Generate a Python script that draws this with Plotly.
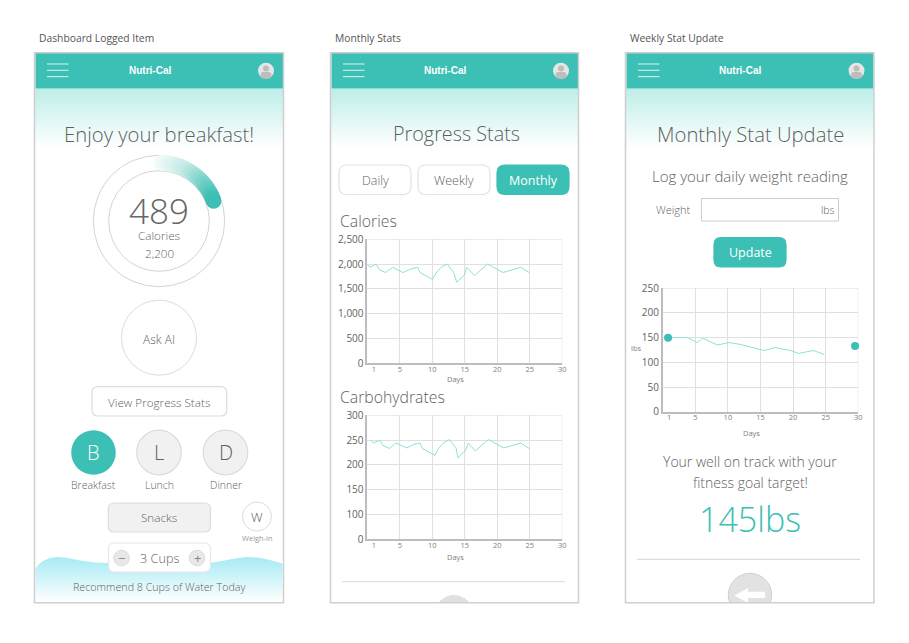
#!/usr/bin/env python3
"""Nutri-Cal app screens: three phone mockups with calorie, carb and weight charts."""

import math

import plotly.graph_objects as go

# Values
cal_days = [0, 0.4, 1.33, 1.85, 2.82, 3.9, 5.5, 6.7, 7.75, 8.1, 10.05, 10.55, 11.3, 12.3,
            13.3, 13.75, 14.9, 15.3, 16.5, 18.5, 20.9, 23.6, 24.9]
calories = [2000, 1935, 2000, 1890, 1830, 1935, 1830, 1900, 1935, 1830, 1690, 1815, 1930, 2000,
            1830, 1635, 1770, 1935, 1770, 2000, 1830, 1935, 1830]
carb_days = [0.5, 0.97, 1.95, 2.4, 3.4, 4.4, 6.05, 7.1, 8.1, 8.45, 10.4, 10.9, 11.7, 12.6,
             13.65, 13.95, 15.1, 15.55, 16.6, 18.65, 21.0, 23.6, 24.9]
carbs = [250, 244, 250, 239, 233, 244, 234, 241, 244, 233, 219, 232, 244, 251,
         234, 214, 229, 244, 228, 251, 234, 244, 233]
weight_days = [0.82, 3.83, 5.3, 6.13, 8.4, 10.1, 11.85, 13.2, 15.6, 17.2, 19.6, 20.85, 23.1, 24.8]
weights = [150, 150, 140, 149, 135, 140, 136.5, 132, 124, 130, 124, 118, 124, 116]
weight_marks_days = [0.82, 29.5]
weight_marks = [150, 133]

day_ticks = [1, 5, 10, 15, 20, 25, 30]
day_grid = [0, 5, 10, 15, 20, 25, 30]
cal_ticks = [0, 500, 1000, 1500, 2000, 2500]
# the mockup's carb axis skips 50: labels are evenly spaced, so 50 sits where "0" is printed
carb_ticks = [50, 100, 150, 200, 250, 300]
carb_labels = ["0", "100", "150", "200", "250", "300"]
weight_ticks = [0, 50, 100, 150, 200, 250]

TEAL = "#3cbfb4"
LINE = "#8fe0d8"
GRID = "#e0e0e0"
AXIS = "#bdbdbd"
TEXT = "#5f5f5f"
SMALL = "#808080"
BORDER = "#dcdcdc"
FONT = "Open Sans"

WIDTH, HEIGHT = 893, 627  # browser body margin adds 8px on each side
PHONES = [(34.5, 283.5), (330.5, 578.5), (625.5, 874)]
TOP, BOTTOM = 52.7, 602.7


def px_x(x):
    return (x - 8) / WIDTH


def px_y(y):
    return 1 - (y - 8) / HEIGHT


fig = go.Figure()
shapes = []
notes = []


def label(x, y, text, size=12, color=TEXT, anchor="center", family=FONT, weight=None):
    # annotations sit low against the reference, so lift them
    notes.append(dict(x=x, y=y - 2, xref="x", yref="y", text=text, showarrow=False, xanchor=anchor,
                      yanchor="middle", borderpad=0,
                      font=dict(size=size, color=color, family=family, weight=weight)))


def rect(x0, y0, x1, y1, fill=None, line=None, width=1, layer="above"):
    shapes.append(dict(type="rect", xref="x", yref="y", x0=x0, y0=y0, x1=x1, y1=y1, layer=layer,
                       fillcolor=fill or "rgba(0,0,0,0)",
                       line=dict(color=line or "rgba(0,0,0,0)", width=width if line else 0)))


def button(x0, y0, x1, y1, fill="#ffffff", line=BORDER, r=6):
    path = (f"M{x0 + r},{y0} L{x1 - r},{y0} Q{x1},{y0} {x1},{y0 + r} L{x1},{y1 - r} "
            f"Q{x1},{y1} {x1 - r},{y1} L{x0 + r},{y1} Q{x0},{y1} {x0},{y1 - r} "
            f"L{x0},{y0 + r} Q{x0},{y0} {x0 + r},{y0} Z")
    shapes.append(dict(type="path", xref="x", yref="y", path=path, fillcolor=fill, layer="above",
                       line=dict(color=line, width=1.2)))


def circle(cx, cy, r, fill=None, line=None, width=1, layer="above"):
    shapes.append(dict(type="circle", xref="x", yref="y", x0=cx - r, y0=cy - r, x1=cx + r, y1=cy + r,
                       layer=layer, fillcolor=fill or "rgba(0,0,0,0)",
                       line=dict(color=line or "rgba(0,0,0,0)", width=width if line else 0)))


def gradient_fill(xs, ys, y0, y1, c0, c1):
    fig.add_trace(go.Scatter(x=xs, y=ys, xaxis="x", yaxis="y", mode="lines", fill="toself",
                             line=dict(width=0), hoverinfo="skip",
                             fillgradient=dict(type="vertical", start=y0, stop=y1,
                                               colorscale=[[0, c0], [1, c1]])))


# Backgrounds under the phone headers
for left, right in PHONES:
    gradient_fill([left, right, right, left, left], [88.5, 88.5, 148, 148, 88.5], 88.5, 148,
                  "#bdeee8", "#ffffff")

# Water wave on the dashboard
wave_x = [35.5, 38, 43, 50, 58, 68, 80, 95, 108, 130, 190, 210, 222, 235, 247, 258, 270, 282.5, 282.5, 35.5]
wave_y = [569, 565, 561, 558, 557, 558, 560.5, 562.5, 563, 563, 563, 563, 561, 558.5, 557, 557.5, 560, 563.5, 602, 602]
gradient_fill(wave_x, wave_y, 557, 602, "#a6ebf3", "#ffffff")

# Progress arc: a run of overlapping dots from pale to teal
arc_angles = [2 + i * 1.15 for i in range(60)]
fig.add_trace(go.Scatter(
    x=[159 + 58.2 * math.sin(math.radians(a)) for a in arc_angles],
    y=[221 - 58.2 * math.cos(math.radians(a)) for a in arc_angles],
    xaxis="x", yaxis="y", mode="markers", hoverinfo="skip",
    marker=dict(size=15.5, line=dict(width=0), color=arc_angles, cmin=2, cmax=70,
                colorscale=[[0, "#f6fcfb"], [0.42, "#c2e9e5"], [1, TEAL]])))


def chart(idx, days, values, y_range, ticks, tick_text, box, title_at):
    x0, y0, x1, y1 = box
    xa, ya = f"xaxis{idx}", f"yaxis{idx}"
    fig.add_trace(go.Scatter(x=days, y=values, xaxis=f"x{idx}", yaxis=f"y{idx}", mode="lines",
                             line=dict(color=LINE, width=1)))
    fig.update_layout({
        xa: dict(domain=[px_x(x0), px_x(x1)], anchor=f"y{idx}", range=[0, 30], tickmode="array",
                 tickvals=day_ticks, showgrid=False, zeroline=False, showline=True,
                 linecolor=AXIS, linewidth=1.5, ticks="", ticklabelstandoff=-2,
                 tickfont=dict(size=7.5, color=SMALL, family=FONT),
                 minor=dict(tickmode="array", tickvals=day_grid, showgrid=True, gridcolor=GRID,
                            gridwidth=1, ticks="")),
        ya: dict(domain=[px_y(y1), px_y(y0)], anchor=f"x{idx}", range=y_range, tickmode="array",
                 tickvals=ticks, ticktext=tick_text, showgrid=True, gridcolor=GRID, gridwidth=1,
                 zeroline=False, showline=True, linecolor=AXIS, linewidth=1.5, ticks="",
                 tickfont=dict(size=10, color=TEXT, family=FONT)),
    })
    # plotly leaves out the grid line at the far end of each axis
    for sx0, sy0, sx1, sy1 in [(30, y_range[0], 30, y_range[1]), (0, y_range[1], 30, y_range[1])]:
        shapes.append(dict(type="line", xref=f"x{idx}", yref=f"y{idx}", x0=sx0, y0=sy0, x1=sx1, y1=sy1,
                           layer="below", line=dict(color=GRID, width=1)))
    label(title_at[0], title_at[1], "Days", 7.5, SMALL)


chart(2, cal_days, calories, [0, 2500], cal_ticks, ["0", "500", "1,000", "1,500", "2,000", "2,500"],
      (367.3, 239.3, 562.3, 363.3), (455, 381))
chart(3, carb_days, carbs, [50, 300], carb_ticks, carb_labels, (367.3, 415.3, 562.3, 539), (455, 559))
chart(4, weight_days, weights, [0, 250], weight_ticks, [str(t) for t in weight_ticks],
      (662.7, 288.3, 858.3, 411.7), (751, 435))
fig.add_trace(go.Scatter(x=weight_marks_days, y=weight_marks, xaxis="x4", yaxis="y4", mode="markers",
                         marker=dict(color=TEAL, size=8), cliponaxis=False))
label(635.5, 350, "lbs", 7.5, SMALL)

# Headers shared by all three phones
for (left, right), caption in zip(PHONES, ["Dashboard Logged Item", "Monthly Stats", "Weekly Stat Update"]):
    rect(left + 1, TOP, right - 0.5, 88.5, fill=TEAL)
    for y in (64, 70.3, 76.7):
        shapes.append(dict(type="line", xref="x", yref="y", x0=left + 12.5, x1=left + 34, y0=y, y1=y,
                           layer="above", line=dict(color="#dff5f2", width=1)))
    cx = right - 17.5
    circle(cx, 70.7, 8, fill="#e6e6e6")
    circle(cx, 68.5, 3, fill="#bdbdbd")
    button(cx - 4.8, 72.5, cx + 4.8, 78, fill="#bdbdbd", line="#bdbdbd", r=2.2)
    label((left + right) / 2 - 9.5, 72.3, "<b>Nutri-Cal</b>", 10, "#ffffff", family="Liberation Sans")
    label(left + 3, 40, caption, 10.3, "#555555", anchor="left")

# Dashboard screen
label(159, 135.5, "Enjoy your breakfast!", 20.3, weight=300)
circle(159, 221, 65.7, line="#d4d4d4", layer="below")
circle(159, 221, 50.3, line="#d4d4d4", layer="below")
label(159, 212, "489", 35, "#666666", weight=300)
label(159, 237, "Calories", 11.7, weight=300)
label(159, 255, "2,200", 11.7, weight=300)
circle(159, 337.7, 37.5, line=BORDER)
label(159, 341, "Ask AI", 12, weight=300)
button(92, 386.7, 226.7, 416)
label(159, 404, "View Progress Stats", 11.7, weight=300)
for cx, letter, name, active in [(93.5, "B", "Breakfast", True), (159, "L", "Lunch", False),
                                 (225.5, "D", "Dinner", False)]:
    if active:
        circle(cx, 452.5, 22.3, fill=TEAL)
    else:
        circle(cx, 452.5, 22.3, fill="#f1f1f1", line=BORDER, width=1.2)
    label(cx, 454.5, letter, 20, "#ffffff" if active else TEXT, weight=300)
    label(cx, 487, name, 10.5, weight=300)
button(108.3, 503, 210.5, 532, fill="#f1f1f1")
label(159, 519, "Snacks", 11.7, weight=300)
circle(257, 516.5, 14.5, line=BORDER)
label(257, 518.5, "W", 13, weight=300)
label(257, 540, "Weigh-in", 7.5, "#999999")
button(108.5, 543, 210.5, 572, line="#e6e6e6")
circle(121.5, 558, 7.8, fill="#e8e8e8", line=BORDER)
circle(197, 558, 7.8, fill="#e8e8e8", line=BORDER)
label(121.5, 559.5, "−", 13, "#888888")
label(197, 559.5, "+", 13, "#888888")
label(159, 560, "3 Cups", 12.7, weight=300)
label(159, 589, "Recommend 8 Cups of Water Today", 10.7, weight=300)

# Monthly stats screen
label(456, 135.5, "Progress Stats", 19.8, weight=300)
for x0, text, active in [(339, "Daily", False), (418, "Weekly", False), (497, "Monthly", True)]:
    button(x0, 165, x0 + 72, 194.5, fill=TEAL if active else "#ffffff", line=TEAL if active else "#e2e2e2", r=8)
    label(x0 + 36, 182, text, 12.5, "#ffffff" if active else TEXT, weight=None if active else 300)
label(339, 222.5, "Calories", 15.8, anchor="left", weight=300)
label(339, 398.5, "Carbohydrates", 15.8, anchor="left", weight=300)
shapes.append(dict(type="line", xref="x", yref="y", x0=342, x1=565, y0=581.7, y1=581.7, layer="above",
                   line=dict(color="#e2e2e2", width=1.3)))
circle(454, 614, 19, fill="#e0e0e0")

# Stat update screen
label(750, 135.5, "Monthly Stat Update", 20.3, weight=300)
label(750, 178, "Log your daily weight reading", 15, weight=300)
label(673.5, 211.5, "Weight", 11, weight=300)
rect(701.5, 198.5, 838.5, 221, line="#cccccc", width=1)
label(835.5, 211.5, "lbs", 10.5, anchor="right", weight=300)
button(714, 237.7, 786, 267, fill=TEAL, line=TEAL, r=7)
label(750, 254.5, "Update", 12.5, "#ffffff")
label(750, 463, "Your well on track with your", 14, weight=300)
label(750, 484, "fitness goal target!", 14, weight=300)
label(750, 521, "145lbs", 34, TEAL, weight=300)
shapes.append(dict(type="line", xref="x", yref="y", x0=637, x1=860, y0=559.3, y1=559.3, layer="above",
                   line=dict(color="#d4d4d4", width=1)))
circle(750, 595, 21.7, fill="#e2e2e2", line="#d0d0d0")
shapes.append(dict(type="path", xref="x", yref="y", layer="above", fillcolor="#ffffff", line=dict(width=0),
                   path="M734.3,595.5 L748,588 L748,591.7 L765,591.7 L765,598 L748,598 L748,603 Z"))

# White cover trims the round buttons at the phone edge, then the phone frames
rect(320, 603, 890, 634, fill="#ffffff")
for left, right in PHONES:
    rect(left, TOP, right, BOTTOM, line="#cfcfcf", width=1.5)

fig.update_layout(
    width=WIDTH, height=HEIGHT, autosize=False, template="none", showlegend=False,
    margin=dict(l=0, r=0, t=0, b=0), paper_bgcolor="#ffffff", plot_bgcolor="rgba(0,0,0,0)",
    xaxis=dict(domain=[0, 1], range=[8, 8 + WIDTH], visible=False, fixedrange=True),
    yaxis=dict(domain=[0, 1], range=[8 + HEIGHT, 8], visible=False, fixedrange=True),
    shapes=shapes, annotations=notes,
)

fig.write_html("out.html")
